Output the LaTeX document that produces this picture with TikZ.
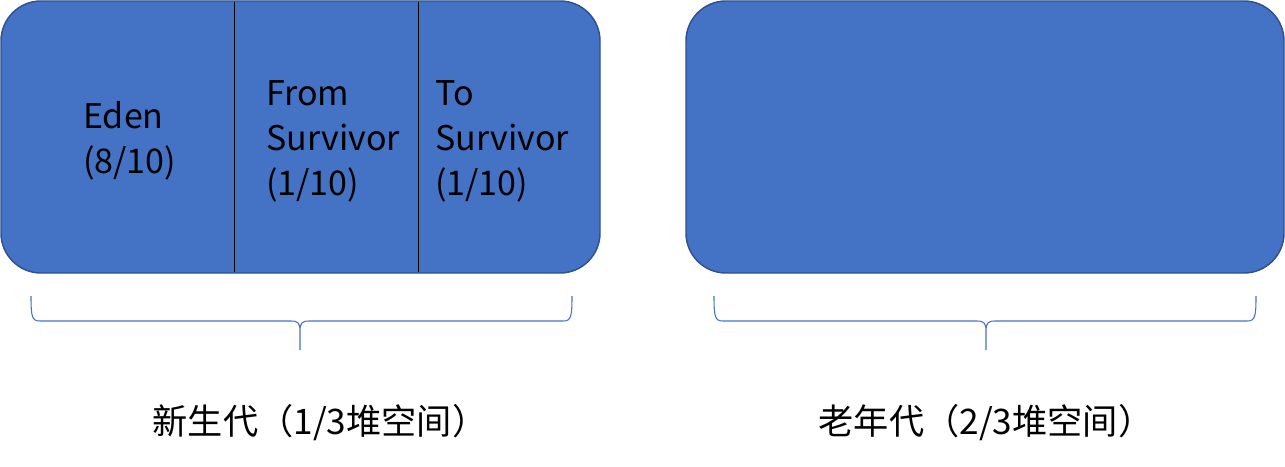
\documentclass[tikz,border=0pt]{standalone}
\usepackage{fontspec}
\setmainfont{Noto Sans CJK SC}
\definecolor{boxfill}{HTML}{4472C4}
\definecolor{boxline}{HTML}{2F528F}
\definecolor{bracecol}{HTML}{4472C4}
\tikzset{
  genbox/.style={draw=boxline, fill=boxfill, line width=1.1pt, rounded corners=30pt, inner sep=0pt},
  divider/.style={draw=black, line width=0.75pt},
  celltext/.style={anchor=base west, inner sep=0pt, font=\fontsize{25.5}{31}\selectfont, text=black},
  label/.style={anchor=base, inner sep=0pt, font=\fontsize{26.4}{32}\selectfont, text=black},
  brace/.style={draw=bracecol, line width=0.8pt}
}
\begin{document}
\begin{tikzpicture}[x=0.75pt, y=-0.75pt]
\useasboundingbox (0,0) rectangle (1285,467);
% boxes
\node[genbox, minimum width=449.25pt, minimum height=204pt] (young) at (300.5,137) {};
\node[genbox, minimum width=448.5pt, minimum height=204pt] (old) at (985,137) {};
% dividers
\coordinate (d1t) at (234,1.6); \coordinate (d1b) at (234,272.4);
\coordinate (d2t) at (418,1.6); \coordinate (d2b) at (418,272.4);
\draw[divider] (d1t) -- (d1b);
\draw[divider] (d2t) -- (d2b);
% cell texts
\node[celltext] (eden1) at (83,128) {Eden};
\node[celltext] (eden2) at (83,173) {(8/10)};
\node[celltext] (from1) at (266,105) {From};
\node[celltext] (from2) at (266,150) {Survivor};
\node[celltext] (from3) at (266,195) {(1/10)};
\node[celltext] (to1) at (435,105) {To};
\node[celltext] (to2) at (435,150) {Survivor};
\node[celltext] (to3) at (435,195) {(1/10)};
% braces
\coordinate (lb) at (300,350);
\draw[brace] (31,296) .. controls (31,317) and (32,321) .. (40,321) -- (291,321)
  .. controls (298,321) and (300,323) .. (300,331) -- (lb) -- (300,331)
  .. controls (300,323) and (302,321) .. (309,321) -- (563,321)
  .. controls (571,321) and (572,317) .. (572,296);
\coordinate (rb) at (986,350);
\draw[brace] (714,296) .. controls (714,317) and (715,321) .. (723,321) -- (977,321)
  .. controls (984,321) and (986,323) .. (986,331) -- (rb) -- (986,331)
  .. controls (986,323) and (988,321) .. (995,321) -- (1247,321)
  .. controls (1255,321) and (1256,317) .. (1256,296);
% labels
\node[label] (younglabel) at (320,434) {新生代（1/3堆空间）};
\node[label] (oldlabel) at (986,434) {老年代（2/3堆空间）};
\end{tikzpicture}
\end{document}
